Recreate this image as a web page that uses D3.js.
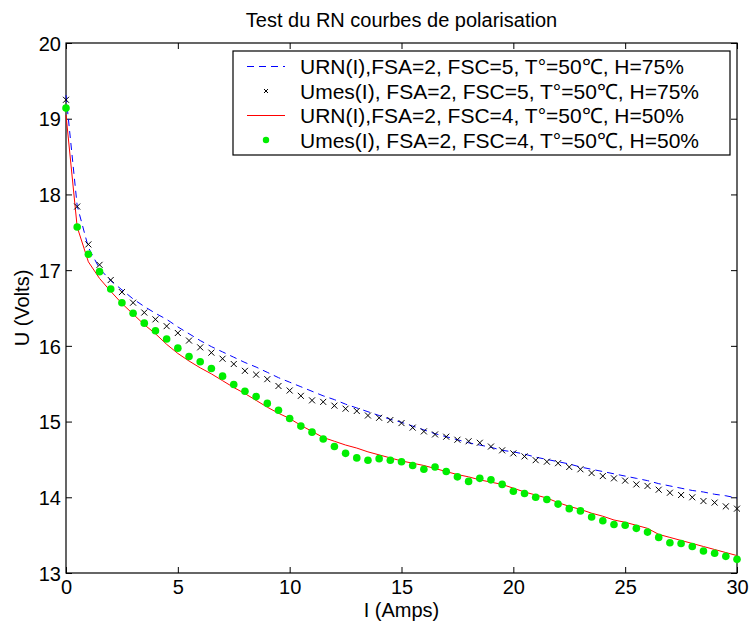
<!DOCTYPE html>
<html>
<head>
<meta charset="utf-8">
<script src="https://cdn.jsdelivr.net/npm/d3@7"></script>
<style>
  html, body { margin: 0; padding: 0; background: #fff; }
  svg { display: block; }
  text { font-family: "Liberation Sans", Arial, Helvetica, sans-serif; fill: #000; }
</style>
</head>
<body>
<svg id="chart" width="750" height="628"></svg>
<script>
// ---------- data ----------
const current = [0,0.5,1,1.5,2,2.5,3,3.5,4,4.5,5,5.5,6,6.5,7,7.5,8,8.5,9,9.5,
  10,10.5,11,11.5,12,12.5,13,13.5,14,14.5,15,15.5,16,16.5,17,17.5,18,18.5,19,19.5,
  20,20.5,21,21.5,22,22.5,23,23.5,24,24.5,25,25.5,26,26.5,27,27.5,28,28.5,29,29.5,30];

// URN(I), FSA=2, FSC=5, T=50C, H=75% (blue dashed)
const urnFSC5 = [19.31,17.85,17.30,17.02,16.86,16.74,16.62,16.52,16.43,16.35,
  16.25,16.16,16.07,15.99,15.92,15.85,15.78,15.72,15.65,15.58,
  15.52,15.46,15.40,15.34,15.29,15.23,15.18,15.13,15.08,15.03,
  14.99,14.94,14.89,14.84,14.80,14.76,14.72,14.69,14.66,14.62,
  14.60,14.57,14.53,14.50,14.47,14.44,14.40,14.37,14.34,14.31,
  14.28,14.25,14.22,14.18,14.15,14.12,14.09,14.07,14.04,14.02,13.99];

// Umes(I), FSA=2, FSC=5, T=50C, H=75% (black x)
const umesFSC5 = [19.25,17.84,17.34,17.07,16.87,16.71,16.57,16.44,16.35,16.26,
  16.17,16.07,15.98,15.91,15.83,15.76,15.67,15.62,15.56,15.47,
  15.41,15.34,15.28,15.26,15.21,15.17,15.14,15.08,15.05,15.02,
  14.98,14.92,14.87,14.83,14.80,14.76,14.74,14.72,14.67,14.62,
  14.58,14.54,14.49,14.47,14.45,14.40,14.37,14.32,14.28,14.25,
  14.22,14.17,14.15,14.10,14.06,14.03,14.00,13.95,13.93,13.88,13.85];

// URN(I), FSA=2, FSC=4, T=50C, H=50% (red line)
const urnFSC4 = [19.05,17.57,17.11,16.89,16.72,16.56,16.42,16.28,16.16,16.02,
  15.90,15.80,15.71,15.63,15.54,15.45,15.37,15.28,15.19,15.11,
  15.04,14.95,14.87,14.79,14.74,14.69,14.65,14.60,14.56,14.52,
  14.48,14.45,14.42,14.38,14.34,14.30,14.27,14.23,14.20,14.17,
  14.12,14.07,14.03,13.99,13.93,13.88,13.84,13.79,13.75,13.70,
  13.67,13.63,13.59,13.51,13.47,13.43,13.39,13.35,13.31,13.27,13.23];

// Umes(I), FSA=2, FSC=4, T=50C, H=50% (green dots)
const umesFSC4 = [19.14,17.57,17.21,16.98,16.75,16.57,16.43,16.30,16.20,16.09,
  15.97,15.86,15.79,15.70,15.60,15.49,15.40,15.33,15.24,15.15,
  15.04,14.94,14.86,14.77,14.67,14.58,14.52,14.49,14.51,14.49,
  14.47,14.42,14.37,14.40,14.34,14.27,14.21,14.25,14.23,14.17,
  14.08,14.05,14.00,13.97,13.91,13.85,13.82,13.74,13.69,13.64,
  13.63,13.59,13.54,13.47,13.40,13.39,13.35,13.29,13.26,13.22,13.18];

const xTicks = [0,5,10,15,20,25,30];
const yTicks = [13,14,15,16,17,18,19,20];

const legendLabels = [
  "URN(I),FSA=2, FSC=5, T°=50℃, H=75%",
  "Umes(I), FSA=2, FSC=5, T°=50℃, H=75%",
  "URN(I),FSA=2, FSC=4, T°=50℃, H=50%",
  "Umes(I), FSA=2, FSC=4, T°=50℃, H=50%"
];

const titleText = "Test du RN courbes de polarisation";
const xLabel = "I (Amps)";
const yLabel = "U (Volts)";

// ---------- layout ----------
const L = 66, R = 737, T = 43, B = 573;
const svg = d3.select("#chart");

const x = d3.scaleLinear().domain([0, 30]).range([L, R]);
const y = d3.scaleLinear().domain([13, 20]).range([B, T]);

const FS = 20;

// ---------- axes ----------
const tickLen = 6;
const axB = svg.append("g").attr("transform", `translate(0,${B})`)
  .call(d3.axisBottom(x).tickValues(xTicks).tickSizeInner(-tickLen).tickSizeOuter(0).tickPadding(7).tickFormat(d3.format("d")));
const axT = svg.append("g").attr("transform", `translate(0,${T})`)
  .call(d3.axisTop(x).tickValues(xTicks).tickSizeInner(-tickLen).tickSizeOuter(0).tickFormat(""));
const axL = svg.append("g").attr("transform", `translate(${L},0)`)
  .call(d3.axisLeft(y).tickValues(yTicks).tickSizeInner(-tickLen).tickSizeOuter(0).tickPadding(5).tickFormat(d3.format("d")));
const axR = svg.append("g").attr("transform", `translate(${R},0)`)
  .call(d3.axisRight(y).tickValues(yTicks).tickSizeInner(-tickLen).tickSizeOuter(0).tickFormat(""));

[axB, axT, axL, axR].forEach(g => {
  g.select(".domain").remove();
  g.selectAll(".tick line").attr("stroke", "#000").attr("stroke-width", 1);
  g.selectAll(".tick text").attr("font-size", FS).attr("fill", "#000")
    .style("font-family", '"Liberation Sans", Arial, sans-serif');
});
axB.selectAll(".tick text").attr("dy", "0.71em");
axL.selectAll(".tick text").attr("dy", "0.36em");

// frame
svg.append("rect").attr("x", L).attr("y", T).attr("width", R - L).attr("height", B - T)
  .attr("fill", "none").attr("stroke", "#000").attr("stroke-width", 1.2);

// ---------- series ----------
const plot = svg.append("g");
const line = d3.line().x(d => x(d[0])).y(d => y(d[1]));

plot.append("path")
  .datum(current.map((c, i) => [c, urnFSC5[i]]))
  .attr("d", line).attr("fill", "none").attr("stroke", "#0000ff")
  .attr("stroke-width", 1).attr("stroke-dasharray", "7,5");

plot.append("path")
  .datum(current.map((c, i) => [c, urnFSC4[i]]))
  .attr("d", line).attr("fill", "none").attr("stroke", "#ff0000")
  .attr("stroke-width", 1);

const xs = 3;
plot.selectAll("path.cross")
  .data(current.map((c, i) => [c, umesFSC5[i]]))
  .join("path").attr("class", "cross")
  .attr("d", d => {
    const px = x(d[0]), py = y(d[1]);
    return `M${px - xs},${py - xs}L${px + xs},${py + xs}M${px - xs},${py + xs}L${px + xs},${py - xs}`;
  })
  .attr("stroke", "#000").attr("stroke-width", 1).attr("fill", "none");

plot.selectAll("circle.dot")
  .data(current.map((c, i) => [c, umesFSC4[i]]))
  .join("circle").attr("class", "dot")
  .attr("cx", d => x(d[0])).attr("cy", d => y(d[1])).attr("r", 3.8)
  .attr("fill", "#00ee00");

// ---------- labels ----------
svg.append("text").attr("x", (L + R) / 2).attr("y", 27).attr("text-anchor", "middle")
  .attr("font-size", 20).text(titleText);
svg.append("text").attr("x", (L + R) / 2).attr("y", 617).attr("text-anchor", "middle")
  .attr("font-size", FS).text(xLabel);
svg.append("text").attr("transform", `translate(29,${(T + B) / 2}) rotate(-90)`)
  .attr("text-anchor", "middle").attr("font-size", FS).text(yLabel);

// ---------- legend ----------
const lg = svg.append("g");
const lx = 233, ly = 51, lw = 497, lh = 104;
lg.append("rect").attr("x", lx).attr("y", ly).attr("width", lw).attr("height", lh)
  .attr("fill", "#fff").attr("stroke", "#000").attr("stroke-width", 1.2);
const rowY = [66.5, 91, 115.5, 140];
const s0 = 247, s1 = 285, sm = 266;
lg.append("line").attr("x1", s0).attr("x2", s1).attr("y1", rowY[0]).attr("y2", rowY[0])
  .attr("stroke", "#0000ff").attr("stroke-width", 1).attr("stroke-dasharray", "7,5");
lg.append("path").attr("d", `M${sm - 2},${rowY[1] - 2}L${sm + 2},${rowY[1] + 2}M${sm - 2},${rowY[1] + 2}L${sm + 2},${rowY[1] - 2}`)
  .attr("stroke", "#000").attr("stroke-width", 1);
lg.append("line").attr("x1", s0).attr("x2", s1).attr("y1", rowY[2]).attr("y2", rowY[2])
  .attr("stroke", "#ff0000").attr("stroke-width", 1);
lg.append("circle").attr("cx", sm).attr("cy", rowY[3]).attr("r", 3.2).attr("fill", "#00ee00");

legendLabels.forEach((t, i) => {
  lg.append("text").attr("x", 300).attr("y", rowY[i]).attr("dy", "0.36em")
    .attr("font-size", 21).text(t);
});
</script>
</body>
</html>
